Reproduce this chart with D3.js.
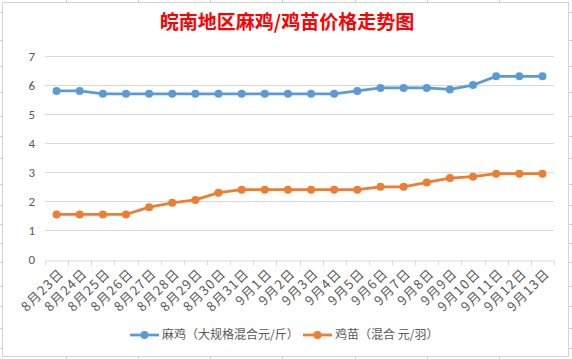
<!DOCTYPE html>
<html><head><meta charset="utf-8">
<script src="https://cdn.jsdelivr.net/npm/d3@7"></script>
<style>
html,body{margin:0;padding:0;background:#fff;}
svg{display:block;font-family:"Noto Sans CJK SC","Noto Sans",sans-serif;}
</style></head>
<body><svg id="c" width="572" height="359"></svg>
<script>
const categories = ["8月23日","8月24日","8月25日","8月26日","8月27日","8月28日","8月29日","8月30日","8月31日","9月1日","9月2日","9月3日","9月4日","9月5日","9月6日","9月7日","9月8日","9月9日","9月10日","9月11日","9月12日","9月13日"];
const maji = [5.8,5.8,5.7,5.7,5.7,5.7,5.7,5.7,5.7,5.7,5.7,5.7,5.7,5.8,5.9,5.9,5.9,5.85,6.0,6.3,6.3,6.3];
const jimiao = [1.55,1.55,1.55,1.55,1.8,1.95,2.05,2.3,2.4,2.4,2.4,2.4,2.4,2.4,2.5,2.5,2.65,2.8,2.85,2.95,2.95,2.95];
const yTicks = [0,1,2,3,4,5,6,7];
const seriesNames = ["麻鸡（大规格混合元/斤）","鸡苗（混合 元/羽）"];
const colors = ["#5B9BD5","#ED7D31"];
const title = "皖南地区麻鸡/鸡苗价格走势图";

const svg = d3.select("#c");
const grid = "#d9d9d9";
const textCol = "#595959";

// spreadsheet background lines
const colLines = [66,138,210,282,355,427,499];
const rowLines = [12,40,66,92,116,136,158,184,205,224,243,262,286,306,328,348];
const bg = svg.append("g").attr("stroke","#d0d0d0").attr("stroke-width",1);
colLines.forEach(x=>{
  bg.append("line").attr("x1",x+0.5).attr("x2",x+0.5).attr("y1",0).attr("y2",2);
  bg.append("line").attr("x1",x+0.5).attr("x2",x+0.5).attr("y1",357).attr("y2",359);
});
rowLines.forEach(y=>{
  bg.append("line").attr("x1",0).attr("x2",2).attr("y1",y+0.5).attr("y2",y+0.5);
  bg.append("line").attr("x1",569).attr("x2",572).attr("y1",y+0.5).attr("y2",y+0.5);
});
// chart frame
svg.append("rect").attr("x",2.5).attr("y",2.5).attr("width",566).attr("height",354)
  .attr("fill","#fff").attr("stroke","#d4d4d4").attr("stroke-width",1);

// title
svg.append("text").attr("x",287).attr("y",29).attr("text-anchor","middle")
  .attr("fill","#FF0000").attr("font-size",19).attr("font-weight","bold").text(title);

const x = d3.scaleBand().domain(categories).range([45,554]).padding(0);
const y = d3.scaleLinear().domain([0,7]).range([259.5,56]);

// gridlines
const gg = svg.append("g");
yTicks.filter(t=>t>0).forEach(t=>{
  gg.append("line").attr("x1",45).attr("x2",554).attr("y1",Math.round(y(t))+0.5).attr("y2",Math.round(y(t))+0.5)
    .attr("stroke",grid).attr("stroke-width",1);
});
// y labels
const yAxis = d3.axisLeft(y).tickValues(yTicks).tickFormat(d3.format("d")).tickSize(0).tickPadding(0);
const ya = svg.append("g").attr("transform","translate(35,0)").call(yAxis);
ya.select(".domain").remove();
ya.selectAll("text").attr("fill",textCol).attr("font-size",13)
  .attr("font-family","Calibri,Carlito,'Liberation Sans',sans-serif");

// x axis
const xAxis = d3.axisBottom(x).tickSize(0).tickFormat("");
const xa = svg.append("g").attr("transform",`translate(0,${Math.round(y(0))+0.5})`).call(xAxis);
xa.select(".domain").attr("stroke",grid);
const bounds = categories.map(c=>x(c)).concat([x(categories[categories.length-1])+x.bandwidth()]);
bounds.forEach(b=>{
  xa.append("line").attr("x1",Math.round(b)+0.5).attr("x2",Math.round(b)+0.5).attr("y1",0).attr("y2",5).attr("stroke",grid);
});
// x labels rotated
const xl = svg.append("g");
categories.forEach(c=>{
  const cx = x(c)+x.bandwidth()/2;
  xl.append("text").attr("transform",`translate(${cx+5},${271}) rotate(-45)`)
    .attr("text-anchor","end").attr("dy","0.35em").attr("fill",textCol)
    .attr("font-size",13).attr("letter-spacing","1.2px").text(c);
});

// lines
const data = [maji, jimiao];
data.forEach((vals,i)=>{
  const line = d3.line().x((d,j)=>x(categories[j])+x.bandwidth()/2).y(d=>y(d));
  svg.append("path").datum(vals).attr("d",line).attr("fill","none")
    .attr("stroke",colors[i]).attr("stroke-width",2.75).attr("stroke-linejoin","round");
  svg.append("g").selectAll("circle").data(vals).join("circle")
    .attr("cx",(d,j)=>x(categories[j])+x.bandwidth()/2).attr("cy",d=>y(d)).attr("r",4)
    .attr("fill",colors[i]);
});

// legend
const legX = [130,303];
seriesNames.forEach((n,i)=>{
  const g = svg.append("g").attr("transform",`translate(${legX[i]},335)`);
  g.append("line").attr("x1",0).attr("x2",29).attr("y1",0).attr("y2",0).attr("stroke",colors[i]).attr("stroke-width",2.75);
  g.append("circle").attr("cx",14.5).attr("cy",0).attr("r",4).attr("fill",colors[i]);
  g.append("text").attr("x",32).attr("y",0).attr("dy","0.35em").attr("fill",textCol).attr("font-size",12).text(n);
});
</script></body></html>
